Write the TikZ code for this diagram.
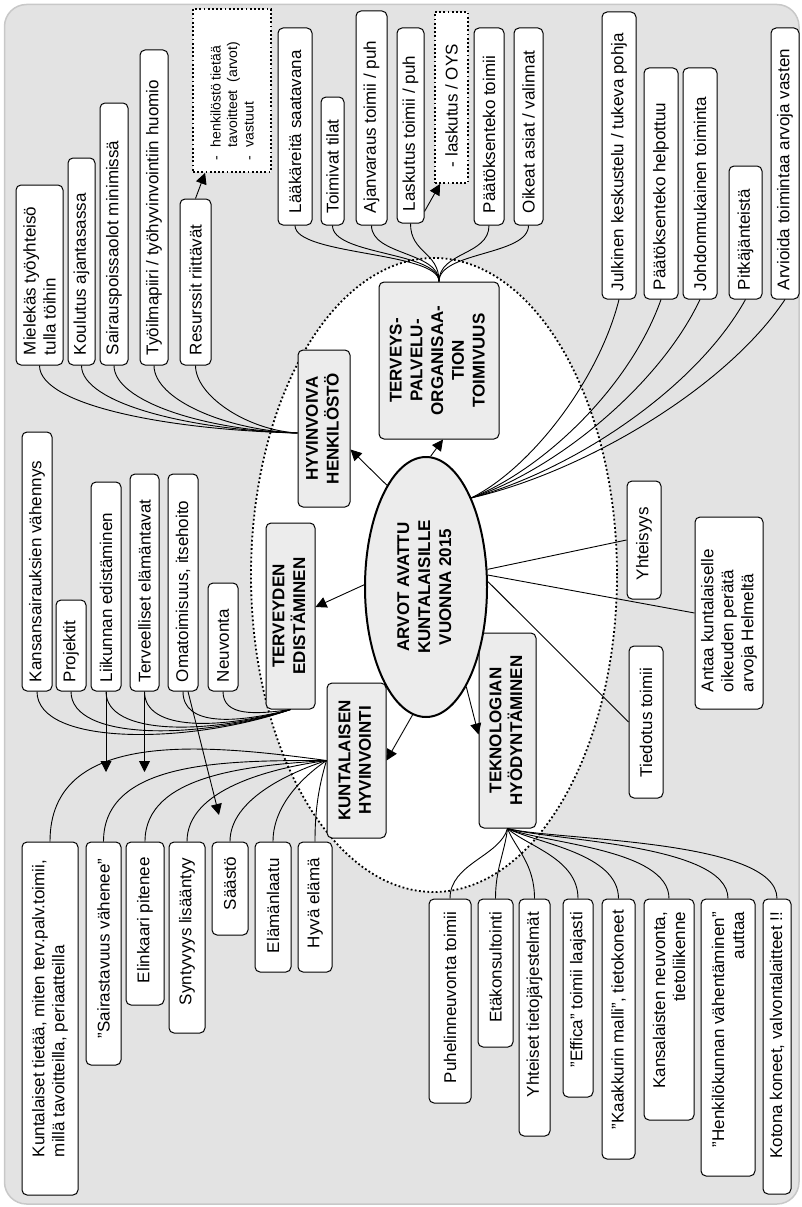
\documentclass[tikz,border=0pt]{standalone}
\usepackage{fontspec}
\setmainfont{Liberation Sans}
\usepackage{graphicx}
\usetikzlibrary{arrows.meta,calc,shapes.geometric}

\definecolor{pagebg}{RGB}{227,227,227}
\definecolor{pageedge}{RGB}{200,200,200}
\definecolor{catfill}{RGB}{236,236,236}

% text starts #1pt after the lower end / ends #1pt before the upper end
\newcommand\lpad[1]{\raggedright\leftskip=#1pt\relax}
\newcommand\rpad[1]{\raggedleft\rightskip=#1pt\relax}

% upright box with text running upwards: [style]{name}{x1}{y1}{x2}{y2}{alignment}{text}
\newcommand\leaf[8][leafbox]{%
  \pgfmathsetmacro\lfw{#5-#3}%
  \pgfmathsetmacro\lfh{#6-#4}%
  \pgfmathsetmacro\lft{#6-#4-4}%
  \pgfmathsetmacro\lfx{(#3+#5)/2}%
  \pgfmathsetmacro\lfy{(#4+#6)/2}%
  \node[#1, minimum width=\lfw pt, minimum height=\lfh pt] (#2) at (\lfx,\lfy)
    {\rotatebox{90}{\parbox{\lft pt}{#7#8}}};%
}
% grey theme box with centred bold lines: {name}{x1}{y1}{x2}{y2}{lines}
\newcommand\catbox[6]{%
  \pgfmathsetmacro\lfw{#4-#2}%
  \pgfmathsetmacro\lfh{#5-#3}%
  \pgfmathsetmacro\lfx{(#2+#4)/2}%
  \pgfmathsetmacro\lfy{(#3+#5)/2}%
  \node[catnode, minimum width=\lfw pt, minimum height=\lfh pt] (#1) at (\lfx,\lfy)
    {\rotatebox{90}{\begin{tabular}{@{}c@{}}#6\end{tabular}}};%
}

\tikzset{
  dots/.style={line width=1.8pt, dash pattern=on 1.8pt off 2.4pt},
  leafbox/.style={draw=black, line width=1pt, fill=white, rounded corners=5pt,
    inner sep=0pt, font=\fontsize{17}{20}\selectfont},
  dotbox/.style={draw=black, dots, fill=white, inner sep=0pt, font=\fontsize{17}{20}\selectfont},
  catnode/.style={draw=black, line width=1pt, fill=catfill, rounded corners=5pt,
    inner sep=0pt, font=\bfseries\fontsize{17}{20.7}\selectfont},
  centre/.style={ellipse, draw=black, line width=2pt, fill=catfill, inner sep=0pt,
    font=\bfseries\fontsize{17}{21}\selectfont},
  conn/.style={line width=0.9pt},
  arr/.style={conn, -{Triangle[length=11pt,width=11pt]}},
}

\begin{document}
\begin{tikzpicture}[x=1pt,y=-1pt]
\useasboundingbox (0,0) rectangle (802,1207);
\draw[pageedge, fill=pagebg, line width=1.5pt, rounded corners=22pt] (4.5,4.5) rectangle (799,1204);
\draw[fill=white, dots] (434,575) ellipse [x radius=183pt, y radius=317pt];

% ---- staff wellbeing
\leaf{h1}{16}{185}{63}{365}{\lpad{8}}{Mielekäs työyhteisö\\tulla töihin}
\leaf{h2}{68}{158}{95}{365}{\lpad{8}}{Koulutus ajantasassa}
\leaf{h3}{100}{103}{128}{365}{\lpad{8}}{Sairauspoissaolot minimissä}
\leaf{h4}{140}{50}{168}{365}{\lpad{8}}{Työilmapiiri / työhyvinvointiin huomio}
\leaf{h5}{180}{199}{211}{365}{\lpad{8}}{Resurssit riittävät}
\leaf[dotbox,font=\fontsize{14}{16.5}\selectfont]{d1}{193}{9}{271}{172}{\lpad{10}}%
  {\makebox[13pt][l]{-}henkilöstö tietää\\\hspace*{13pt}tavoitteet~~(arvot)\\\makebox[13pt][l]{-}vastuut}

% ---- health service organisation
\leaf{t1}{278}{28}{312}{225}{\lpad{10}}{Lääkäreitä saatavana}
\leaf{t2}{321}{97}{344}{225}{\lpad{10}}{Toimivat tilat}
\leaf{t3}{356}{11}{387}{225}{\lpad{10}}{Ajanvaraus toimii / puh}
\leaf{t4}{397}{28}{424}{223}{\lpad{10}}{Laskutus toimii / puh}
\leaf[dotbox]{d2}{435}{12}{468}{183}{\lpad{14}}{- laskutus / OYS}
\leaf{t5}{474}{28}{504}{225}{\lpad{10}}{Päätöksenteko toimii}
\leaf{t6}{514}{28}{543}{225}{\lpad{10}}{Oikeat asiat / valinnat}

% ---- values, upper right
\leaf{r1}{602}{12}{636}{299}{\lpad{6}}{Julkinen keskustelu / tukeva pohja}
\leaf{r2}{644}{68}{678}{299}{\lpad{7}}{Päätöksenteko helpottuu}
\leaf{r3}{683}{68}{717}{299}{\lpad{6}}{Johdonmukainen toiminta}
\leaf{r4}{729}{166}{762}{299}{\lpad{7}}{Pitkäjänteistä}
\leaf{r5}{771}{28}{799}{299}{\lpad{7}}{Arvioida toimintaa arvoja vasten}

% ---- health promotion
\leaf{e1}{22}{432}{52}{691}{\lpad{7}}{Kansansairauksien vähennys}
\leaf{e2}{56}{600}{86}{691}{\lpad{7}}{Projektit}
\leaf{e3}{91}{482}{121}{691}{\lpad{7}}{Liikunnan edistäminen}
\leaf{e4}{130}{474}{159}{691}{\lpad{7}}{Terveelliset elämäntavat}
\leaf{e5}{168}{474}{198}{691}{\lpad{7}}{Omatoimisuus, itsehoito}
\leaf{e6}{208}{583}{238}{691}{\lpad{7}}{Neuvonta}

% ---- citizens' wellbeing
\leaf{k1}{22}{842}{78}{1195}{\lpad{36}}{Kuntalaiset tietää, miten terv.palv.toimii,\\millä tavoitteilla, periaatteilla}
\leaf{k2}{86}{842}{121}{1065}{\lpad{25}}{"Sairastavuus vähenee"}
\leaf{k3}{126}{842}{164}{1005}{\lpad{20}}{Elinkaari pitenee}
\leaf{k4}{169}{842}{205}{1033}{\lpad{26}}{Syntyvyys lisääntyy}
\leaf{k5}{212}{842}{248}{935}{\lpad{23}}{Säästö}
\leaf{k6}{255}{842}{291}{972}{\lpad{17}}{Elämänlaatu}
\leaf{k7}{298}{842}{332}{972}{\lpad{22}}{Hyvä elämä}

% ---- use of technology
\leaf{b1}{429}{899}{471}{1103}{\rpad{11}}{Puhelinneuvonta toimii}
\leaf{b2}{478}{899}{513}{1047}{\rpad{11}}{Etäkonsultointi}
\leaf{b3}{519}{899}{550}{1136}{\rpad{11}}{Yhteiset tietojärjestelmät}
\leaf{b4}{563}{899}{593}{1097}{\rpad{11}}{"Effica" toimii laajasti}
\leaf{b5}{602}{899}{635}{1159}{\rpad{9}}{"Kaakkurin~malli",~tietokoneet}
\leaf{b6}{644}{899}{694}{1120}{\rpad{11}}{Kansalaisten neuvonta,\\tietoliikenne}
\leaf{b7}{701}{899}{755}{1176}{\rpad{11}}{"Henkilökunnan vähentäminen"\\auttaa}
\leaf{b8}{763}{899}{791}{1194}{\rpad{11}}{Kotona koneet, valvontalaitteet !!}

% ---- values, middle right
\leaf{y}{627}{481}{661}{599}{\lpad{17}}{Yhteisyys}
\leaf{an}{695}{517}{763}{709}{\lpad{15}}{Antaa kuntalaiselle\\oikeuden perätä\\arvoja Helmeltä}
\leaf{ti}{629}{646}{663}{798}{\lpad{19}}{Tiedotus toimii}

% ---- themes
\catbox{hh}{298}{350}{350}{507}{HYVINVOIVA\\HENKILÖSTÖ}
\catbox{tp}{379}{282}{499}{439}{TERVEYS-\\PALVELU-\\ORGANISAA-\\TION\\TOIMIVUUS}
\catbox{te}{266}{523}{315}{709}{TERVEYDEN\\EDISTÄMINEN}
\catbox{kh}{327}{683}{386}{838}{KUNTALAISEN\\HYVINVOINTI}
\catbox{tk}{479}{633}{536}{828}{TEKNOLOGIAN\\HYÖDYNTÄMINEN}

\node[centre, minimum width=122pt, minimum height=260pt] (c) at (426,587)
  {\rotatebox{90}{\begin{tabular}{@{}c@{}}ARVOT AVATTU\\KUNTALAISILLE\\VUONNA 2015\end{tabular}}};

\coordinate (hhin) at ($(hh.west)+(0,4.5)$);
\coordinate (e3end) at (106,772);
\coordinate (e4end) at (144.5,772);
\coordinate (e5end) at (219,815);

% centre to themes
\draw[arr] (c.111) -- ($(hh.east)+(0,21)$);
\draw[arr] (c.88) -- ($(tp.south)+(4,0)$);
\draw[arr] (c.178) -- ($(te.east)+(0,-9)$);
\draw[arr] (c.264) -- (kh.east);
\draw[arr] (c.292) -- ($(tk.west)+(0,4)$);

% staff wellbeing fan
\draw[conn] (h1.south) .. controls +(0,40) and +(-128,-3) .. (hhin);
\draw[conn] (h2.south) .. controls +(0,38) and +(-107,-3) .. (hhin);
\draw[conn] (h3.south) .. controls +(0,36) and +(-92,-3) .. (hhin);
\draw[conn] (h4.south) .. controls +(0,34) and +(-72,-3) .. (hhin);
\draw[conn] (h5.south) .. controls +(0,30) and +(-51,-3) .. (hhin);
\draw[arr] (h5.north) -- ($(d1.south west)+(13,0)$);

% organisation fan
\foreach \t in {t1,t2,t3,t4,t5,t6}
  \draw[conn] (\t.south) .. controls +(0,30) and +(0,-30) .. (tp.north);
\draw[arr] ($(t4.south east)+(0,-12)$) -- ($(d2.south west)+(6,0)$);

% values fan to the centre
\draw[conn] (r1.south) .. controls +(-20,80) and +(60,-30) .. (c.63);
\draw[conn] (r2.south) .. controls +(-30,85) and +(75,-30) .. (c.63);
\draw[conn] (r3.south) .. controls +(-40,85) and +(85,-28) .. (c.63);
\draw[conn] (r4.south) .. controls +(-50,90) and +(100,-27) .. (c.63);
\draw[conn] (r5.south) .. controls +(-60,90) and +(110,-25) .. (c.63);

\draw[conn] (c.16) -- (y.west);
\draw[conn] (c.11) -- (an.west);
\draw[conn] (c.5) -- (ti.west);

% health promotion fan
\draw[conn] (e1.south) .. controls +(0,55) and +(-100,35) .. (te.south);
\draw[conn] (e2.south) .. controls +(0,50) and +(-90,30) .. (te.south);
\draw[conn] (e3.south) .. controls +(0,45) and +(-80,25) .. (te.south);
\draw[conn] (e4.south) .. controls +(0,40) and +(-70,20) .. (te.south);
\draw[conn] (e5.south) .. controls +(0,35) and +(-55,14) .. (te.south);
\draw[conn] (e6.south) .. controls +(0,25) and +(-35,5) .. (te.south);
\draw[arr] (e3.south) -- (e3end);
\draw[arr] (e4.south) -- (e4end);
\draw[arr] ($(e5.south)+(5,0)$) -- (e5end);

% citizens' wellbeing fan
\draw[conn] (kh.west) .. controls +(-125,-17) and +(0,-112) .. (k1.north);
\draw[conn] (kh.west) .. controls +(-97,0) and +(0,-82) .. (k2.north);
\draw[conn] (kh.west) .. controls +(-77,5) and +(0,-67) .. (k3.north);
\draw[conn] (kh.west) .. controls +(-57,8) and +(0,-52) .. (k4.north);
\draw[conn] (kh.west) .. controls +(-37,12) and +(0,-42) .. (k5.north);
\draw[conn] (kh.west) .. controls +(-22,15) and +(0,-37) .. (k6.north);
\draw[conn] (kh.west) .. controls +(-9,30) and +(0,-27) .. (k7.north);

% technology fan
\draw[conn] (tk.south) .. controls +(-8,28) and +(0,-35) .. (b1.north);
\draw[conn] (tk.south) .. controls +(-3,25) and +(0,-30) .. (b2.north);
\draw[conn] (tk.south) .. controls +(8,20) and +(0,-35) .. (b3.north);
\draw[conn] (tk.south) .. controls +(20,18) and +(0,-40) .. (b4.north);
\draw[conn] (tk.south) .. controls +(30,15) and +(0,-45) .. (b5.north);
\draw[conn] (tk.south) .. controls +(35,15) and +(0,-50) .. (b6.north);
\draw[conn] (tk.south) .. controls +(40,12) and +(0,-55) .. (b7.north);
\draw[conn] (tk.south) .. controls +(45,12) and +(0,-60) .. (b8.north);
\end{tikzpicture}
\end{document}
